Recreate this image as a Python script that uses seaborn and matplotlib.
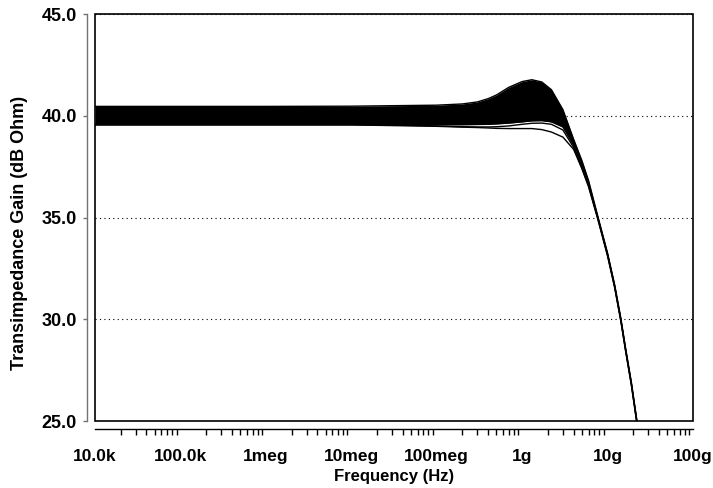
import pandas as pd
import matplotlib.pyplot as plt
import seaborn as sns
from matplotlib.patches import Rectangle

freq = [1e4, 1e5, 1e6, 1e7, 1e8, 2e8, 3e8, 4e8, 5e8, 7e8, 1e9, 1.3e9, 1.7e9,
        2.2e9, 3e9, 4e9, 5e9, 6e9, 7.7e9, 1e10, 1.21e10, 1.43e10, 1.63e10, 1.9e10, 2.2e10, 2.5e10]

# Upper / lower edge of the dense Monte Carlo band (dB Ohm)
band_upper = [40.46, 40.46, 40.46, 40.47, 40.52, 40.58, 40.68, 40.84, 41.02, 41.4, 41.68, 41.77, 41.66,
              41.28, 40.3, 38.85, 37.8, 36.8, 35.05, 33.25, 31.7, 30.05, 28.55, 26.9, 25.05, 23.5]
band_lower = [39.56, 39.56, 39.56, 39.56, 39.56, 39.56, 39.57, 39.58, 39.6, 39.64, 39.7, 39.75, 39.76,
              39.7, 39.45, 38.55, 37.5, 36.6, 34.98, 33.18, 31.63, 29.98, 28.48, 26.83, 24.98, 23.45]

# Two outlier runs that fall below the band near the peak
run_low1 = [39.58, 39.58, 39.58, 39.58, 39.5, 39.46, 39.45, 39.45, 39.46, 39.5, 39.58, 39.63, 39.64,
            39.58, 39.3, 38.45, 37.45, 36.55, 34.95, 33.15, 31.6, 29.95, 28.45, 26.8, 24.95, 23.4]
run_low2 = [39.55, 39.55, 39.55, 39.55, 39.48, 39.44, 39.42, 39.4, 39.38, 39.37, 39.37, 39.37, 39.32,
            39.2, 38.95, 38.35, 37.4, 36.5, 34.9, 33.1, 31.55, 29.9, 28.4, 26.75, 24.9, 23.35]

xtick_vals = [1e4, 1e5, 1e6, 1e7, 1e8, 1e9, 1e10, 1e11]
xtick_labels = ["10.0k", "100.0k", "1meg", "10meg", "100meg", "1g", "10g", "100g"]
ytick_vals = [25, 30, 35, 40, 45]

# Long-form table of the individual runs
runs = {"upper": band_upper, "lower": band_lower, "low1": run_low1, "low2": run_low2}
df = pd.concat([pd.DataFrame({"freq": freq, "gain": v, "run": k}) for k, v in runs.items()])

sns.set_style("white")
plt.rcParams["font.family"] = ["Liberation Sans", "DejaVu Sans"]
plt.rcParams["font.weight"] = "bold"
plt.rcParams["text.color"] = "black"
plt.rcParams["axes.labelcolor"] = "black"
plt.rcParams["xtick.color"] = "black"
plt.rcParams["ytick.color"] = "black"

fig = plt.figure(figsize=(7.13, 4.88), dpi=100)
ax = fig.add_axes([95 / 713, 1 - 421 / 488, 598 / 713, 407 / 488])

# Dense band drawn as a filled region, plus the individual edge runs
ax.fill_between(freq, band_lower, band_upper, color="black", lw=0)
sns.lineplot(data=df, x="freq", y="gain", units="run", estimator=None,
             color="black", lw=1, legend=False, ax=ax)

ax.set_xscale("log")
ax.set_xlim(1e4, 1e11)
ax.set_ylim(25, 45)
ax.set_xticks(xtick_vals)
ax.set_xticklabels(xtick_labels)
ax.set_yticks(ytick_vals)
ax.set_yticklabels([f"{v:.1f}" for v in ytick_vals])

# Dotted horizontal grid
ax.yaxis.grid(True, linestyle=(0, (1, 3)), color="black", lw=0.8)
ax.xaxis.grid(False)

# Offset axis lines with a separate plot frame
for s in ["top", "right"]:
    ax.spines[s].set_visible(False)
ax.spines["left"].set_position(("outward", 6))
ax.spines["bottom"].set_position(("outward", 6))
ax.spines["left"].set_color("0.45")
ax.spines["bottom"].set_color("black")
ax.spines["left"].set_linewidth(1)
ax.spines["bottom"].set_linewidth(1)
ax.add_patch(Rectangle((0, 0), 1, 1, transform=ax.transAxes, fill=False,
                       ec="black", lw=1.2, clip_on=False, zorder=5))

ax.tick_params(axis="x", which="major", direction="out", length=6, width=1,
               color="black", labelcolor="black", labelsize=12.5, pad=8)
ax.tick_params(axis="x", which="minor", direction="out", length=4, width=1,
               color="black", bottom=True)
ax.tick_params(axis="y", which="major", direction="out", length=3, width=1,
               color="0.45", labelcolor="black", labelsize=13, pad=4, left=True)

ax.set_xlabel("Frequency (Hz)", fontsize=12, fontweight="bold", labelpad=4)
ax.set_ylabel("Transimpedance Gain (dB Ohm)", fontsize=13, fontweight="bold")
ax.yaxis.set_label_coords(-0.112, 0.462)

fig.savefig("out.png", dpi=100)
